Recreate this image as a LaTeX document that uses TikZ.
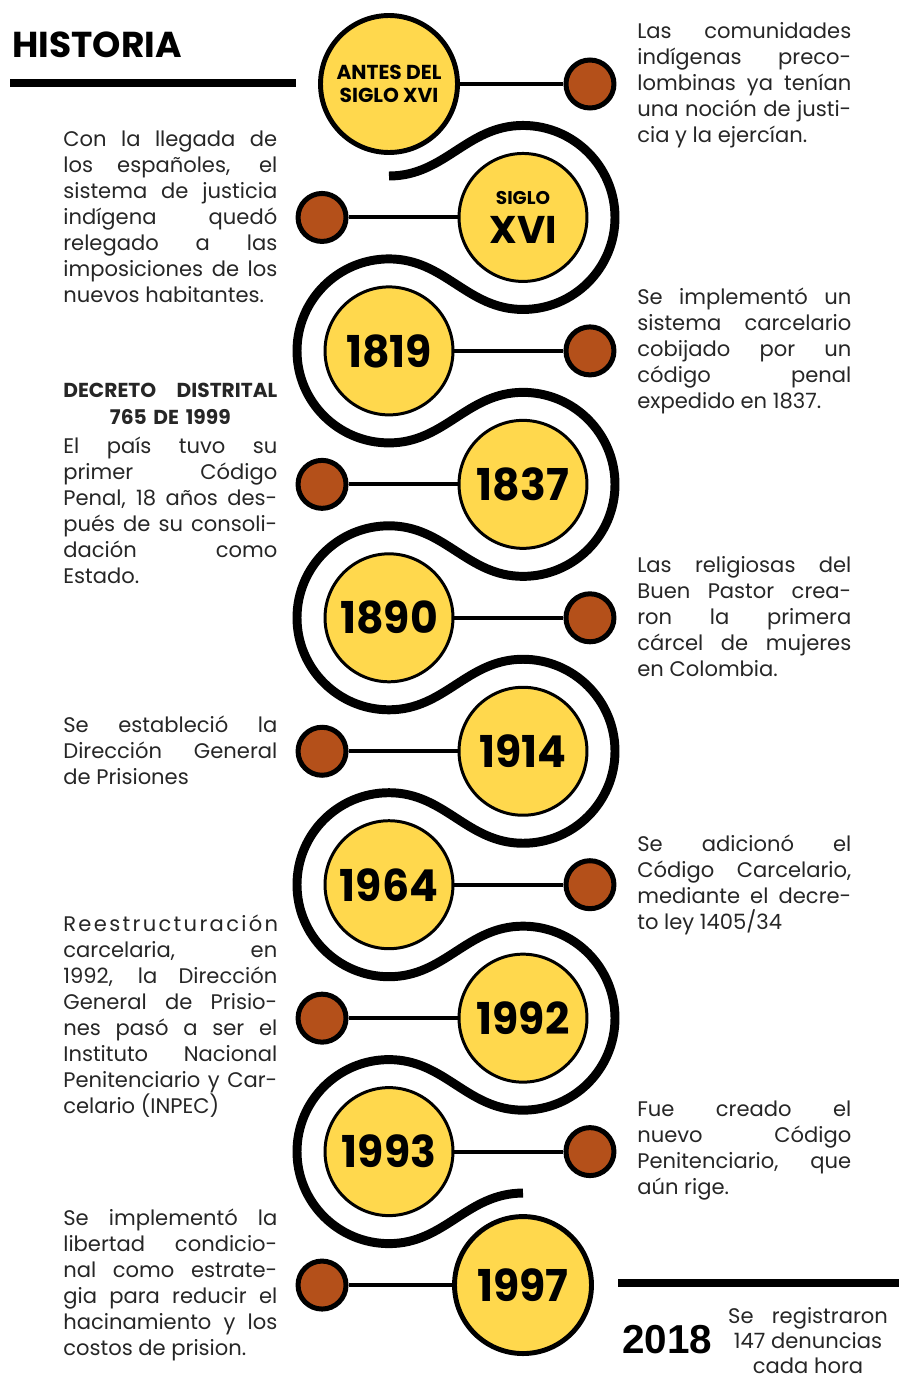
\documentclass[tikz,border=0pt]{standalone}
\usepackage{fontspec}
\usepackage{graphicx}
\setmainfont{Poppins}
\newfontfamily\cifras{Liberation Sans}
\usepackage{tikz}
\usetikzlibrary{positioning}
\definecolor{sol}{HTML}{FFD84D}
\definecolor{teja}{HTML}{B4501A}
\definecolor{tinta}{HTML}{262626}
\newcommand{\estrecho}[1]{\scalebox{0.97}[1]{#1}}
\hyphenpenalty=10000
\tolerance=10000
\hbadness=10000

\begin{document}
\begin{tikzpicture}[x=0.02cm, y=-0.02cm, node distance=4.02cm, on grid,
    hito/.style={circle, draw=black, line width=1.7pt, fill=sol, minimum size=2.56cm, inner sep=0pt, align=center, text=black},
    hitogrande/.style={hito, line width=2.8pt, minimum size=2.74cm},
    anio/.style={hito, font=\fontsize{25}{25}\selectfont\bfseries},
    punto/.style={circle, draw=black, line width=2.85pt, fill=teja, minimum size=0.96cm, inner sep=0pt},
    enlace/.style={line width=2.3pt},
    camino/.style={line width=5.1pt},
    regla/.style={line width=5.1pt},
    texto/.style={text width=4.28cm, align=justify, inner sep=0pt, anchor=north west, text=tinta, font=\fontsize{12}{14.8}\selectfont}]
    % Page frame
    \useasboundingbox (0,0) rectangle (899,1379);

    % Title and rules
    \node (titulo) [anchor=base west, inner sep=0pt, font=\fontsize{20.5}{20.5}\selectfont\bfseries] at (12,57) {HISTORIA};
    \draw [regla] (10,83) -- (296,83);
    \draw [regla] (618,1283) -- (899,1283);

    % Winding road behind the milestones
    \draw [camino] (389,176)
        \foreach \j [evaluate=\j as \yc using 217.45+266.9*\j] in {0,...,3} {
            to [out=0, in=180] (523,\yc-92) arc [start angle=-90, end angle=90, radius=92]
            to [out=180, in=0] (389,\yc+41.45) arc [start angle=270, end angle=90, radius=92]
        }
        to [out=0, in=180] (523,1193.05);

    % Milestones
    \node (antes) [hitogrande, font=\fontsize{11.5}{13}\selectfont\bfseries] at (389,84) {ANTES DEL\\SIGLO XVI};
    \node (xvi) [hito, font=\fontsize{22}{22.5}\selectfont\bfseries] at (523,217.45) {{\fontsize{10.5}{12}\selectfont SIGLO}\\XVI};
    \node (a1819) [anio] at (389,350.9) {\estrecho{1819}};
    \node (a1837) [anio] at (523,484.35) {\estrecho{1837}};
    \node (a1890) [anio] at (389,617.8) {\estrecho{1890}};
    \node (a1914) [anio] at (523,751.25) {\estrecho{1914}};
    \node (a1964) [anio] at (389,884.7) {\estrecho{1964}};
    \node (a1992) [anio] at (523,1018.15) {\estrecho{1992}};
    \node (a1993) [anio] at (389,1151.6) {\estrecho{1993}};
    \node (a1997) [anio, hitogrande] at (523,1285.05) {\estrecho{1997}};

    % Side dots
    \node (pantes) [punto, right = of antes] {};
    \node (pxvi) [punto, left = of xvi] {};
    \node (p1819) [punto, right = of a1819] {};
    \node (p1837) [punto, left = of a1837] {};
    \node (p1890) [punto, right = of a1890] {};
    \node (p1914) [punto, left = of a1914] {};
    \node (p1964) [punto, right = of a1964] {};
    \node (p1992) [punto, left = of a1992] {};
    \node (p1993) [punto, right = of a1993] {};
    \node (p1997) [punto, left = of a1997] {};

    % Links
    \foreach \a/\b in {antes/pantes, xvi/pxvi, a1819/p1819, a1837/p1837, a1890/p1890,
        a1914/p1914, a1964/p1964, a1992/p1992, a1993/p1993, a1997/p1997}
        \draw [enlace] (\a) -- (\b);

    % Texts
    \node (t1) [texto] at (637,22.5) {Las comunidades\linebreak indígenas preco-\linebreak lombinas ya tenían\linebreak una noción de justi-\linebreak cia y la ejercían.};
    \node (t2) [texto] at (63,130.5) {Con la llegada de\linebreak los españoles, el\linebreak sistema de justicia\linebreak indígena quedó\linebreak relegado a las\linebreak imposiciones de los\linebreak nuevos habitantes.};
    \node (t3) [texto] at (637,287.5) {Se implementó un\linebreak sistema carcelario\linebreak cobijado por un\linebreak código penal\linebreak expedido en 1837.};
    \node (decreto) [texto, align=center, font=\fontsize{11.5}{15.4}\selectfont\bfseries] at (63,383) {\makebox[4.28cm]{DECRETO\hfill DISTRITAL}\\765 DE 1999};
    \node (t4) [texto] at (63,436.5) {El país tuvo su\linebreak primer Código\linebreak Penal, 18 años des-\linebreak pués de su consoli-\linebreak dación como\linebreak Estado.};
    \node (t5) [texto] at (637,556.5) {Las religiosas del\linebreak Buen Pastor crea-\linebreak ron la primera\linebreak cárcel de mujeres\linebreak en Colombia.};
    \node (t6) [texto] at (63,715.5) {Se estableció la\linebreak Dirección General\linebreak de Prisiones};
    \node (t7) [texto] at (637,834.5) {Se adicionó el\linebreak Código Carcelario,\linebreak mediante el decre-\linebreak to ley 1405/34};
    \node (t8) [texto] at (63,914.5) {{\addfontfeature{LetterSpace=11}Reestructuración}\linebreak carcelaria, en\linebreak 1992, la Dirección\linebreak General de Prisio-\linebreak nes pasó a ser el\linebreak Instituto Nacional\linebreak Penitenciario y Car-\linebreak celario (INPEC)};
    \node (t9) [texto] at (637,1100.5) {Fue creado el\linebreak nuevo Código\linebreak Penitenciario, que\linebreak aún rige.};
    \node (t10) [texto] at (63,1208.5) {Se implementó la\linebreak libertad condicio-\linebreak nal como estrate-\linebreak gia para reducir el\linebreak hacinamiento y los\linebreak costos de prision.};

    % Closing figure
    \node (y2018) [anchor=base west, inner sep=0pt, font=\cifras\fontsize{23}{23}\selectfont\bfseries] at (622,1353) {2018};
    \node (nota) [anchor=north, inner sep=0pt, align=center, text=tinta, font=\fontsize{12}{14.2}\selectfont] at (808,1307) {Se\hspace{0.6em} registraron\\147 denuncias\\cada hora};
\end{tikzpicture}
\end{document}
